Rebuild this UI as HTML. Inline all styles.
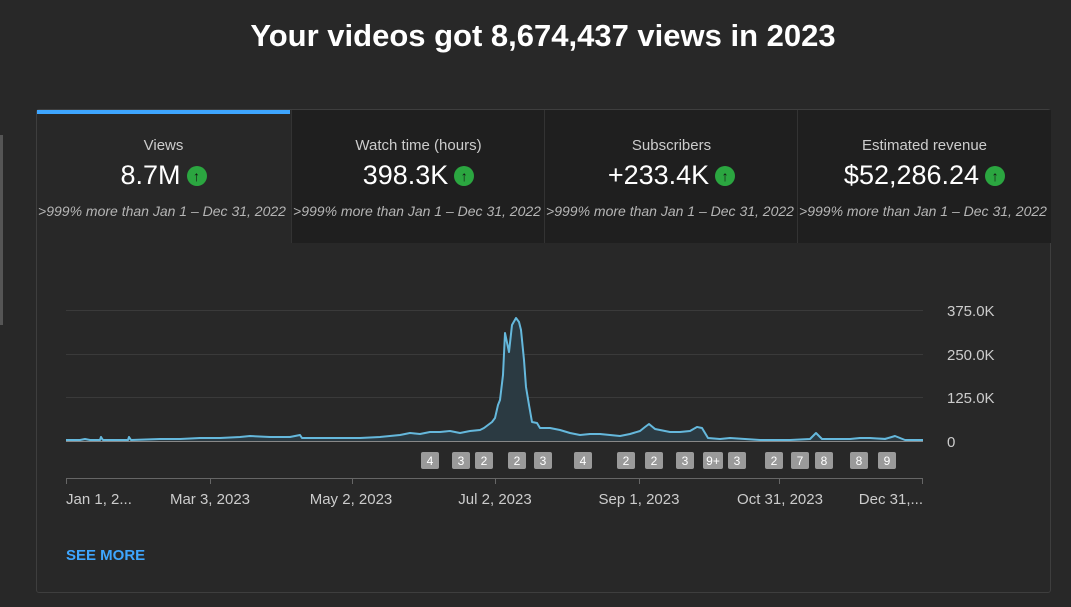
<!DOCTYPE html>
<html><head><meta charset="utf-8"><style>
body{margin:0;width:1071px;height:607px;background:#282828;font-family:"Liberation Sans",sans-serif;overflow:hidden;position:relative;color:#fff}
h1{position:absolute;top:18px;left:0;width:1086px;text-align:center;margin:0;font-size:31px;font-weight:bold;letter-spacing:0px}
.side{position:absolute;left:0;top:135px;width:3px;height:190px;background:#555}
.card{position:absolute;left:36px;top:109px;width:1013px;height:482px;border:1px solid #3e3e3e;border-radius:3px;background:#282828}
.tab{position:absolute;top:0;height:133px;width:253px;background:#1f1f1f;text-align:center;border-left:1px solid #333}
.tab.a{background:#282828;border-left:none;border-top:4px solid #3ea6ff;height:129px}
.t{font-size:15px;color:#ccc;margin-top:27px}
.a .t{margin-top:23px}
.v{font-size:27px;margin-top:6px}
.up{display:inline-block;width:20px;height:20px;border-radius:50%;background:#2ba640;vertical-align:3px;margin-left:6px;color:#111;font-size:14px;line-height:20px;font-weight:bold}
.s{font-size:14px;font-style:italic;color:#b5b5b5;margin-top:12px;white-space:nowrap;margin-left:-3px}
.see{position:absolute;left:66px;top:547px;color:#3ea6ff;font-size:15px;font-weight:bold}
</style></head><body>
<h1>Your videos got 8,674,437 views in 2023</h1>
<div class="side"></div>
<div class="card">
<div class="tab a" style="left:0"><div class="t">Views</div><div class="v">8.7M<span class="up">↑</span></div><div class="s">&gt;999% more than Jan 1 – Dec 31, 2022</div></div>
<div class="tab" style="left:254px"><div class="t">Watch time (hours)</div><div class="v">398.3K<span class="up">↑</span></div><div class="s">&gt;999% more than Jan 1 – Dec 31, 2022</div></div>
<div class="tab" style="left:507px"><div class="t">Subscribers</div><div class="v">+233.4K<span class="up">↑</span></div><div class="s">&gt;999% more than Jan 1 – Dec 31, 2022</div></div>
<div class="tab" style="left:760px;width:253px"><div class="t">Estimated revenue</div><div class="v">$52,286.24<span class="up">↑</span></div><div class="s">&gt;999% more than Jan 1 – Dec 31, 2022</div></div>
</div>
<svg style="position:absolute;left:0;top:0" width="1071" height="607">
<g stroke="#3a3a3a" stroke-width="1">
<line x1="66" x2="923" y1="310.5" y2="310.5"/><line x1="66" x2="923" y1="354.5" y2="354.5"/><line x1="66" x2="923" y1="397.5" y2="397.5"/>
</g>
<line x1="66" x2="923" y1="441.5" y2="441.5" stroke="#888"/>
<g font-size="15" fill="#ccc" font-family="Liberation Sans">
<text x="947" y="316">375.0K</text><text x="947" y="360">250.0K</text><text x="947" y="403">125.0K</text><text x="947" y="447">0</text>
</g>
<path d="M66,440 L100,440 L101,437 L103,440 L128,440 L129,437 L131,440 L180,439 L200,438 L230,438 L250,436 L270,437 L300,435 L302,438 L330,438 L360,438 L380,437 L400,435 L420,434 L440,432 L460,433 L470,431 L480,430 L488,425 L495,418 L500,400 L505,333 L509,352 L512,325 L516,318 L521,330 L526,387 L532,422 L537,423 L540,428 L560,430 L580,435 L600,434 L620,436 L640,431 L649,424 L660,430 L680,432 L690,431 L702,428 L708,438 L730,439 L760,440 L810,439 L816,433 L822,439 L850,439 L870,438 L895,436 L905,440 L923,440 L923,441 L66,441Z" fill="#2b3a42" stroke="none"/>
<path d="M66,440 L80,440 L85,439 L90,440 L100,440 L101,437 L103,440 L128,440 L129,437 L131,440 L160,439 L180,439 L200,438 L220,438 L240,437 L250,436 L270,437 L290,437 L300,435 L302,438 L330,438 L360,438 L380,437 L400,435 L410,433 L420,434 L430,432 L440,432 L450,431 L460,433 L470,431 L480,430 L484,428 L488,425 L492,422 L495,418 L498,405 L500,400 L503,375 L505,333 L509,352 L512,325 L516,318 L519,322 L521,330 L524,360 L526,387 L529,405 L532,422 L537,423 L540,428 L550,428 L560,430 L570,433 L580,435 L590,434 L600,434 L610,435 L620,436 L630,434 L640,431 L645,427 L649,424 L655,429 L660,430 L670,432 L680,432 L690,431 L697,427 L702,428 L708,438 L720,439 L730,438 L745,439 L760,440 L790,440 L810,439 L816,433 L822,439 L835,439 L850,439 L860,438 L870,438 L885,439 L895,436 L905,440 L923,440" fill="none" stroke="#65b8dc" stroke-width="2" stroke-linejoin="round"/>
<g fill="#9a9a9a">
<rect x="421" y="452" width="18" height="17" rx="2"/><rect x="452" y="452" width="18" height="17" rx="2"/><rect x="475" y="452" width="18" height="17" rx="2"/><rect x="508" y="452" width="18" height="17" rx="2"/><rect x="534" y="452" width="18" height="17" rx="2"/><rect x="574" y="452" width="18" height="17" rx="2"/><rect x="617" y="452" width="18" height="17" rx="2"/><rect x="645" y="452" width="18" height="17" rx="2"/><rect x="676" y="452" width="18" height="17" rx="2"/><rect x="703" y="452" width="20" height="17" rx="2"/><rect x="728" y="452" width="18" height="17" rx="2"/><rect x="765" y="452" width="18" height="17" rx="2"/><rect x="791" y="452" width="18" height="17" rx="2"/><rect x="815" y="452" width="18" height="17" rx="2"/><rect x="850" y="452" width="18" height="17" rx="2"/><rect x="878" y="452" width="18" height="17" rx="2"/>
</g>
<g fill="#fff" font-size="12" text-anchor="middle" font-family="Liberation Sans">
<text x="430" y="465">4</text><text x="461" y="465">3</text><text x="484" y="465">2</text><text x="517" y="465">2</text><text x="543" y="465">3</text><text x="583" y="465">4</text><text x="626" y="465">2</text><text x="654" y="465">2</text><text x="685" y="465">3</text><text x="713" y="465">9+</text><text x="737" y="465">3</text><text x="774" y="465">2</text><text x="800" y="465">7</text><text x="824" y="465">8</text><text x="859" y="465">8</text><text x="887" y="465">9</text>
</g>
<line x1="66" x2="923" y1="478.5" y2="478.5" stroke="#666"/>
<g stroke="#666"><line x1="66.5" x2="66.5" y1="478" y2="484"/><line x1="210.5" x2="210.5" y1="478" y2="484"/><line x1="352.5" x2="352.5" y1="478" y2="484"/><line x1="495.5" x2="495.5" y1="478" y2="484"/><line x1="639.5" x2="639.5" y1="478" y2="484"/><line x1="779.5" x2="779.5" y1="478" y2="484"/><line x1="922.5" x2="922.5" y1="478" y2="484"/></g>
<g fill="#ccc" font-size="15" font-family="Liberation Sans">
<text x="66" y="504">Jan 1, 2...</text>
<text x="210" y="504" text-anchor="middle">Mar 3, 2023</text>
<text x="351" y="504" text-anchor="middle">May 2, 2023</text>
<text x="495" y="504" text-anchor="middle">Jul 2, 2023</text>
<text x="639" y="504" text-anchor="middle">Sep 1, 2023</text>
<text x="780" y="504" text-anchor="middle">Oct 31, 2023</text>
<text x="923" y="504" text-anchor="end">Dec 31,...</text>
</g>
</svg>
<div class="see">SEE MORE</div>
</body></html>
